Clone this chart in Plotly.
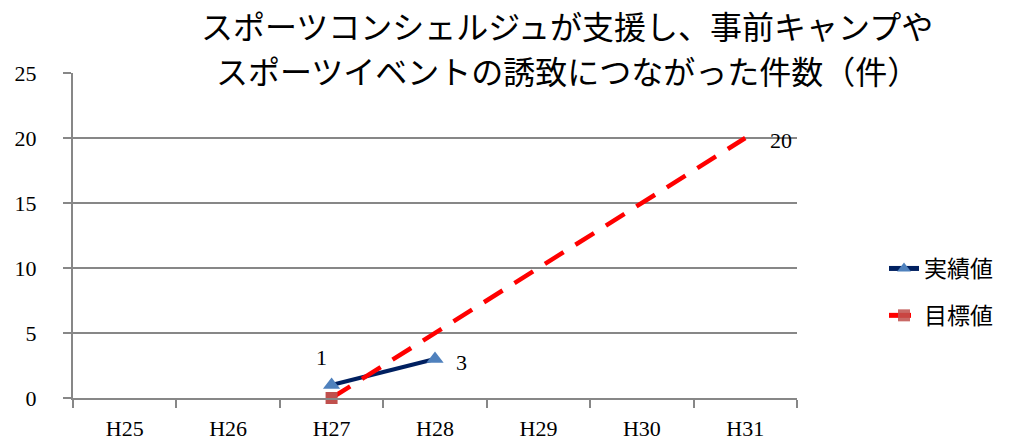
import plotly.graph_objects as go

# Fiscal years (Heisei era)
years = ["H25", "H26", "H27", "H28", "H29", "H30", "H31"]
# Actual results (件)
actual = [None, None, 1, 3, None, None, None]
# Target values (件)
target = [None, None, 0, None, None, None, 20]

title_line1 = "スポーツコンシェルジュが支援し、事前キャンプや"
title_line2 = "スポーツイベントの誘致につながった件数（件）"

serif = "Liberation Serif, DejaVu Serif, serif"
cjk = "Noto Sans CJK JP, Noto Sans, sans-serif"

fig = go.Figure()

fig.add_trace(go.Scatter(
    x=years, y=actual, name="実績値", legendgroup="a",
    mode="lines+markers",
    line=dict(color="#002060", width=4),
    marker=dict(symbol="triangle-up", size=15, color="#4F81BD"),
    cliponaxis=False,
))

fig.add_trace(go.Scatter(
    x=years, y=target, name="目標値", legendgroup="t",
    mode="lines+markers",
    connectgaps=True,
    line=dict(color="#FF0000", width=4.5, dash="22px,14px"),
    marker=dict(symbol="square", size=12, color="#C0504D",
                opacity=[1, 1, 1, 1, 1, 1, 0]),
    cliponaxis=False,
))

# Value labels: (category index, series, x offset px, y offset px)
label_specs = [(2, actual, -10, 28), (3, actual, 26, -3), (6, target, 36, -2)]
for idx, series, dx, dy in label_specs:
    fig.add_annotation(x=years[idx], y=series[idx], text=str(series[idx]),
                       showarrow=False, xshift=dx, yshift=dy,
                       font=dict(family=serif, size=22, color="#000000"))

title_x = (567 - 73) / 724
fig.add_annotation(text=title_line1, xref="paper", yref="paper",
                   x=title_x, y=1 + (73 - 25) / 325,
                   showarrow=False, xanchor="center", yanchor="middle",
                   font=dict(family=cjk, size=32, color="#000000"))
fig.add_annotation(text=title_line2, xref="paper", yref="paper",
                   x=title_x, y=1 + (73 - 70) / 325,
                   showarrow=False, xanchor="center", yanchor="middle",
                   font=dict(family=cjk, size=32, color="#000000"))

fig.update_layout(
    width=1011, height=441,
    margin=dict(l=73, r=214, t=73, b=43),
    paper_bgcolor="#FFFFFF", plot_bgcolor="#FFFFFF",
    showlegend=True,
    legend=dict(x=(884 - 73) / 724, y=(398 - 292) / 325,
                xanchor="left", yanchor="middle",
                font=dict(family=cjk, size=23, color="#000000"),
                tracegroupgap=14, itemsizing="constant"),
    xaxis=dict(
        type="category", categoryorder="array", categoryarray=years,
        range=[-0.5, 6.5], automargin=False,
        showgrid=False, showline=True, linecolor="#878787", linewidth=2,
        ticks="outside", tickson="boundaries", ticklen=8, tickwidth=2,
        tickcolor="#878787",
        tickfont=dict(family=serif, size=22, color="#000000"),
        ticklabelstandoff=10,
        zeroline=False,
    ),
    yaxis=dict(
        range=[0, 25], tickvals=[0, 5, 10, 15, 20, 25], automargin=False,
        showgrid=True, gridcolor="#878787", gridwidth=2,
        showline=True, linecolor="#878787", linewidth=2,
        ticks="outside", ticklen=8, tickwidth=2, tickcolor="#878787",
        tickfont=dict(family=serif, size=22, color="#000000"),
        ticklabelstandoff=22,
        zeroline=False,
    ),
)

fig.write_html("out.html")
